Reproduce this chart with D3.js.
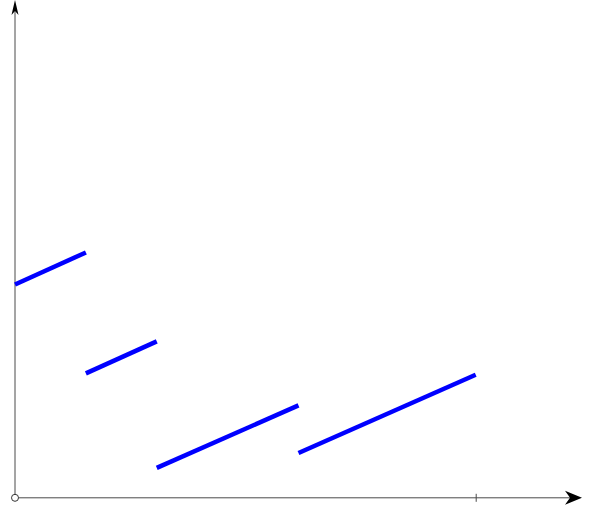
<!DOCTYPE html>
<html>
<head>
<meta charset="utf-8">
<script src="https://cdn.jsdelivr.net/npm/d3@7"></script>
<style>
    html, body { margin: 0; padding: 0; background: #fff; }
    #viz { width: 589px; height: 521px; }
</style>
</head>
<body>
<div id="viz"></div>
<script>
//Datos: tramos de la función (inicio y fin de cada segmento)
const segX0 = [0, 1, 2, 4];
const segX1 = [1, 2, 4, 6.5];
const segY0 = [3.0, 1.75, 0.42, 0.63];
const segY1 = [3.45, 2.2, 1.3, 1.73];
const xTicks = [6.5];

const COLOR_LINE = '#0000ff',
    COLOR_AXIS = '#4a4a4a';

let width = 589, height = 521;

let svg = d3.select('#viz')
    .append('svg')
        .attr('width', width)
        .attr('height', height);

let x = d3.scaleLinear().domain([0, 8]).range([15, 582]);
let y = d3.scaleLinear().domain([0, 7]).range([497.8, 0]);

// Ejes
svg.append('line')
    .attr('x1', x(0)).attr('x2', x(8) - 10)
    .attr('y1', y(0)).attr('y2', y(0))
    .attr('stroke', COLOR_AXIS).attr('stroke-width', 1);

svg.append('line')
    .attr('x1', x(0)).attr('x2', x(0))
    .attr('y1', y(0)).attr('y2', y(7) + 8)
    .attr('stroke', COLOR_AXIS).attr('stroke-width', 1);

// Flechas
let xt = x(8), yt = y(0);
svg.append('path')
    .attr('d', 'M' + xt + ',' + yt + 'L' + (xt - 17) + ',' + (yt - 7) + 'L' + (xt - 12) + ',' + yt + 'L' + (xt - 17) + ',' + (yt + 7) + 'Z')
    .attr('fill', '#000');

let ax = x(0), ay = y(7);
svg.append('path')
    .attr('d', 'M' + ax + ',' + ay + 'L' + (ax - 3.5) + ',' + (ay + 15) + 'L' + ax + ',' + (ay + 11) + 'L' + (ax + 3.5) + ',' + (ay + 15) + 'Z')
    .attr('fill', '#000');

// Marca del eje X
let xAxis = svg.append('g')
    .attr('transform', 'translate(0,' + y(0) + ')')
    .call(d3.axisBottom(x).tickValues(xTicks).tickFormat('').tickSize(4));
xAxis.select('.domain').remove();
xAxis.selectAll('.tick line')
    .attr('y1', -4).attr('y2', 4)
    .attr('stroke', COLOR_AXIS);

// Origen
svg.append('circle')
    .attr('cx', x(0)).attr('cy', y(0)).attr('r', 3.5)
    .attr('fill', '#fff')
    .attr('stroke', '#333').attr('stroke-width', 1);

// Segmentos
svg.selectAll('.seg')
    .data(d3.range(segX0.length))
    .enter()
    .append('line')
    .attr('class', 'seg')
    .attr('x1', function(i) { return x(segX0[i]); })
    .attr('y1', function(i) { return y(segY0[i]); })
    .attr('x2', function(i) { return x(segX1[i]); })
    .attr('y2', function(i) { return y(segY1[i]); })
    .attr('stroke', COLOR_LINE)
    .attr('stroke-width', 4.5);
</script>
</body>
</html>
